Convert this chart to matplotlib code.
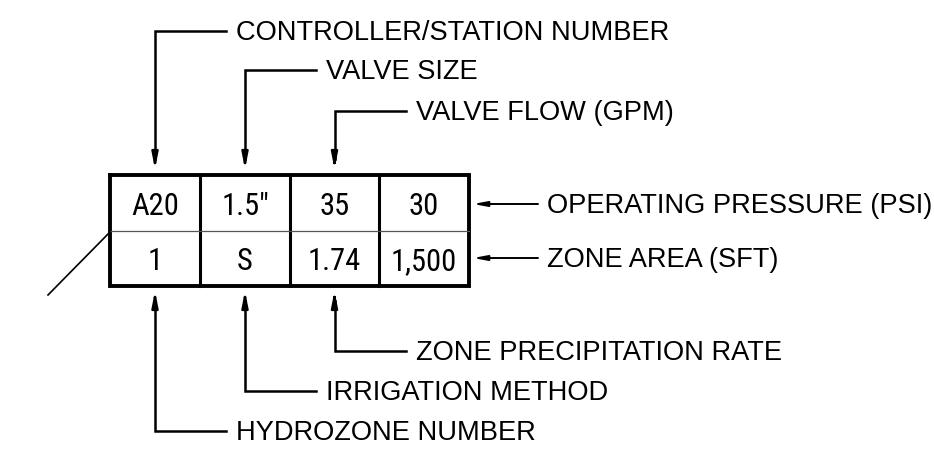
import matplotlib.pyplot as plt

# cell contents of the valve callout box
top_row = ['A20', '1.5"', '35', '30']
bottom_row = ['1', 'S', '1.74', '1,500']

# leader labels: (column index, label)
top_labels = [(0, 'CONTROLLER/STATION NUMBER'), (1, 'VALVE SIZE'), (2, 'VALVE FLOW (GPM)')]
bottom_labels = [(2, 'ZONE PRECIPITATION RATE'), (1, 'IRRIGATION METHOD'), (0, 'HYDROZONE NUMBER')]
right_labels = ['OPERATING PRESSURE (PSI)', 'ZONE AREA (SFT)']

# layout in pixel units
edges = [110, 200, 290, 379, 469]
box_top, box_mid, box_bot = 176, 232, 287
top_y = [32, 71, 112]
bot_y = [352, 392, 432]

fig = plt.figure(figsize=(9.34, 4.52), dpi=100)
ax = fig.add_axes([0, 0, 1, 1])
ax.set_xlim(0, 934)
ax.set_ylim(452, 0)
ax.axis('off')

label_font = dict(family=['Liberation Sans', 'DejaVu Sans'], fontsize=19.6, va='center', ha='left')
cell_font = dict(family=['Roboto Condensed', 'DejaVu Sans'], fontsize=22,
                 va='center', ha='center')

# box
ax.plot([edges[0], edges[-1], edges[-1], edges[0], edges[0]],
        [box_top, box_top, box_bot, box_bot, box_top], color='k', lw=2.8, solid_joinstyle='miter')
for x in edges[1:-1]:
    ax.plot([x, x], [box_top, box_bot], color='k', lw=2.2)
ax.plot([edges[0], edges[-1]], [box_mid, box_mid], color='#555555', lw=0.9)

centers = [(edges[i] + edges[i + 1]) / 2 for i in range(4)]
for i in range(4):
    ax.text(centers[i], (box_top + box_mid) / 2 + 3, top_row[i], **cell_font)
    ax.text(centers[i], (box_mid + box_bot) / 2 + 2, bottom_row[i], **cell_font)

head = dict(arrowstyle='-|>,head_length=0.9,head_width=0.18', color='k', lw=1.8,
            shrinkA=0, shrinkB=0)

# top leaders
for (col, text), y in zip(top_labels, top_y):
    cx = centers[col]
    ax.plot([cx + 71, cx, cx], [y, y, 160], color='k', lw=1.8, solid_joinstyle='miter')
    ax.annotate('', xy=(cx, 170), xytext=(cx, 158), arrowprops=head)
    ax.text(cx + 81, y + 1, text, **label_font)

# bottom leaders
for (col, text), y in zip(bottom_labels, bot_y):
    cx = centers[col]
    ax.plot([cx + 71, cx, cx], [y, y, 302], color='k', lw=1.8, solid_joinstyle='miter')
    ax.annotate('', xy=(cx, 292), xytext=(cx, 304), arrowprops=head)
    ax.text(cx + 81, y + 1, text, **label_font)

# right leaders
for text, y in zip(right_labels, [205, 259]):
    ax.annotate('', xy=(473, y), xytext=(538, y),
                arrowprops=dict(arrowstyle='-|>,head_length=0.8,head_width=0.15', color='k', lw=1.4,
                                shrinkA=0, shrinkB=0))
    ax.text(547, y + 1, text, **label_font)

# diagonal pointer
ax.plot([48, 110], [296, 233], color='k', lw=1.2)

fig.savefig('out.png', dpi=100, facecolor='white')
